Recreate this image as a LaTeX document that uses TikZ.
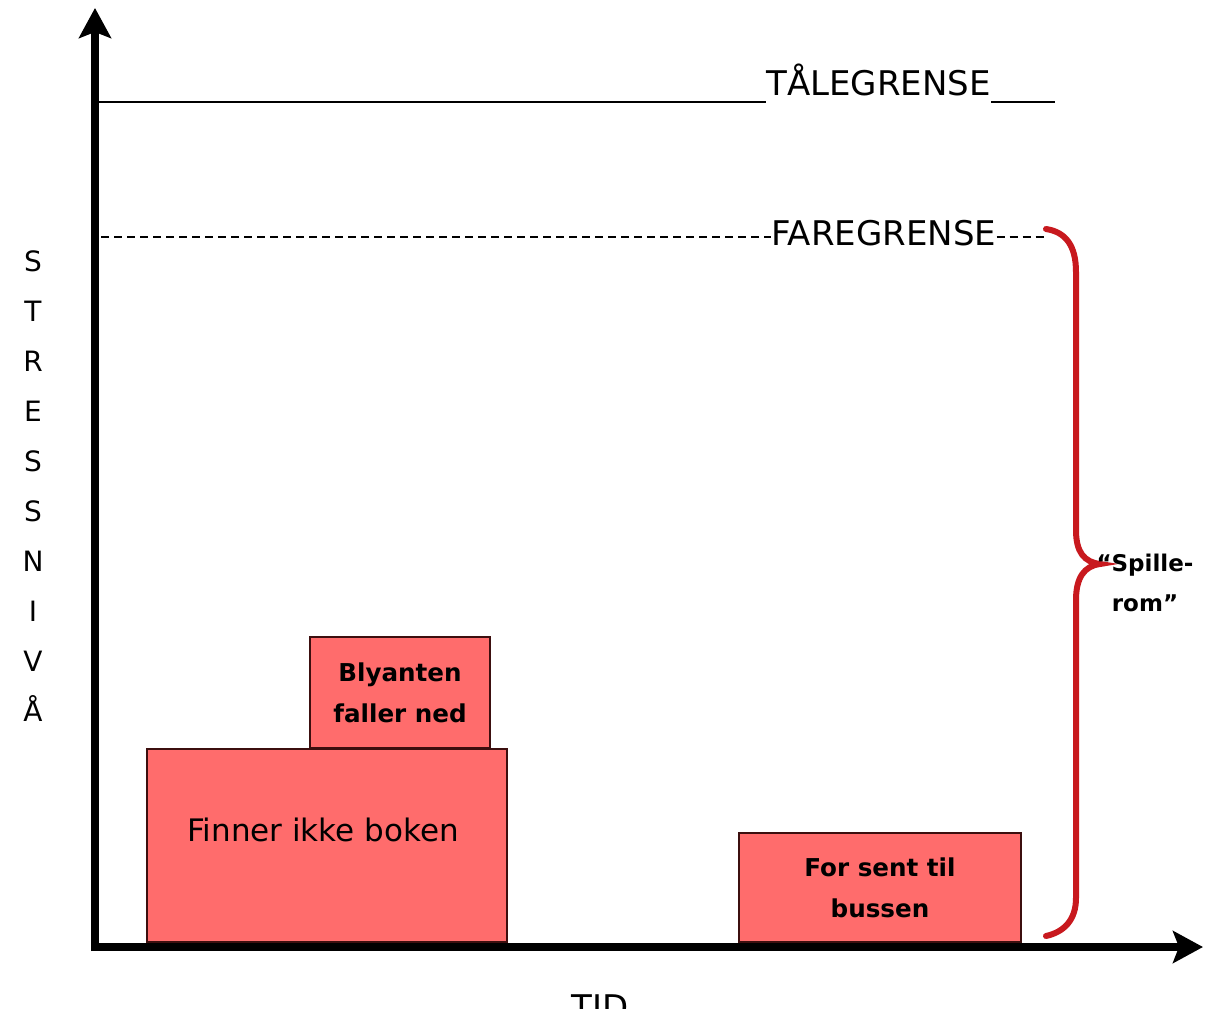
\documentclass[tikz,border=0pt]{standalone}
\usepackage{fontspec}
\setmainfont{DejaVu Sans}
\usetikzlibrary{arrows.meta}
\definecolor{boxfill}{RGB}{255,108,108}
\definecolor{boxline}{RGB}{60,15,15}
\definecolor{bracered}{RGB}{200,25,30}
\begin{document}
\begin{tikzpicture}[x=0.5pt,y=-0.5pt,
  evbox/.style={draw=boxline,line width=1pt,fill=boxfill,anchor=south west,inner sep=0pt,align=center},
  axisline/.style={line width=4pt,-{Stealth[length=15pt,width=16pt,inset=3pt]}},
  limtext/.style={anchor=base west,inner sep=0pt,font=\fontsize{17}{20}\selectfont},
  boxtext/.style={font=\bfseries\fontsize{12.3}{20.5}\selectfont},
  limline/.style={line width=1pt},
  bracestyle/.style={draw=bracered,line width=3pt,line cap=round}]
\useasboundingbox (0,0) rectangle (1206,1008);

% event boxes
\node[evbox,minimum width=180pt,minimum height=96.5pt] (finner) at (146,943) {};
\node[font=\fontsize{15.5}{18}\selectfont] (finnertxt) at (323,830) {Finner ikke boken};
\node[evbox,boxtext,minimum width=90pt,minimum height=55.5pt] (blyant) at (309,749) {Blyanten\\faller ned};
\node[evbox,boxtext,minimum width=141pt,minimum height=54.5pt] (buss) at (738,943) {For sent til\\bussen};

% axes
\coordinate (origin) at (95,947);
\coordinate (ytip) at (95,8);
\coordinate (xtip) at (1203,947);
\draw[axisline] (95,951) -- (ytip);
\draw[axisline] (91,947) -- (xtip);

% TAALEGRENSE
\node[limtext] (tale) at (766,95) {TÅLEGRENSE};
\coordinate (tl0) at (99,102);
\coordinate (tl1) at (1055,102);
\draw[limline] (tl0) -- (tl0 -| tale.west);
\draw[limline] (tale.east |- tl0) -- (tl1);

% FAREGRENSE
\node[limtext] (fare) at (771,245) {FAREGRENSE};
\coordinate (fl0) at (101,237);
\coordinate (fl1) at (1047,237);
\draw[limline,dash pattern=on 4pt off 2.5pt] (fl0) -- (fl0 -| fare.west);
\draw[limline,dash pattern=on 4pt off 2.5pt] (fare.east |- fl0) -- (fl1);

% brace
\coordinate (btop) at (1046,229);
\coordinate (btip) at (1100,564);
\coordinate (bbot) at (1046,936);
\draw[bracestyle] (btop) .. controls (1066,232) and (1076,246) .. (1076,272)
  -- (1076,530) .. controls (1076,552) and (1084,562) .. (btip)
  .. controls (1084,566) and (1076,578) .. (1076,600)
  -- (1076,898) .. controls (1076,920) and (1064,932) .. (bbot);
\node[boxtext,align=center,font=\bfseries\fontsize{11.5}{20}\selectfont] (spill) at (1145,583) {“Spille-\\rom”};

% axis labels
\node[align=center,font=\fontsize{14}{25}\selectfont] (ylab) at (33,486) {S\\T\\R\\E\\S\\S\\N\\I\\V\\Å};
\node[anchor=north,inner sep=0pt,font=\fontsize{17}{20}\selectfont] (tid) at (600,994) {TID};
\end{tikzpicture}
\end{document}
